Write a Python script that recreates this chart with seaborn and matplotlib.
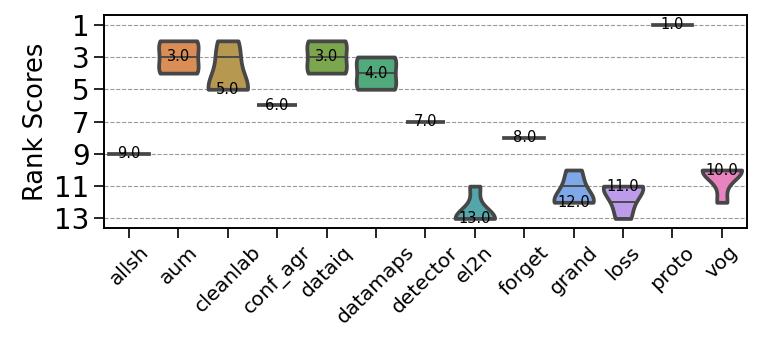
import numpy as np
import pandas as pd
import seaborn as sns
import matplotlib
matplotlib.use("Agg")
import matplotlib.pyplot as plt

# rank of each method across the 5 runs
methods = ["allsh", "aum", "cleanlab", "conf_agr", "dataiq", "datamaps",
           "detector", "el2n", "forget", "grand", "loss", "proto", "vog"]
allsh = [9, 9, 9, 9, 9]
aum = [2, 2, 3, 4, 4]
cleanlab = [2, 3, 5, 5, 5]
conf_agr = [6, 6, 6, 6, 6]
dataiq = [2, 2, 3, 4, 4]
datamaps = [3, 3, 4, 5, 5]
detector = [7, 7, 7, 7, 7]
el2n = [11, 13, 13, 13, 13]
forget = [8, 8, 8, 8, 8]
grand = [10, 11, 12, 12, 12]
loss = [11, 11, 11, 12, 13]
proto = [1, 1, 1, 1, 1]
vog = [10, 10, 10, 10, 12]

ranks = [allsh, aum, cleanlab, conf_agr, dataiq, datamaps, detector,
         el2n, forget, grand, loss, proto, vog]

df = pd.DataFrame(
    [(m, r) for m, vals in zip(methods, ranks) for r in vals],
    columns=["method", "rank"],
)

# husl colours, desaturated and slightly lightened
base = np.array(sns.color_palette("husl", len(methods), desat=0.78))
palette = [tuple(c) for c in 0.92 * base + 0.08]

plt.rcParams["axes.linewidth"] = 1.4
plt.rcParams["xtick.major.size"] = 7
plt.rcParams["ytick.major.size"] = 7
plt.rcParams["xtick.major.width"] = 1.2
plt.rcParams["ytick.major.width"] = 1.2

fig, ax = plt.subplots(figsize=(7.61, 3.41), dpi=100)
fig.subplots_adjust(left=0.137, right=0.981, top=0.956, bottom=0.331)

sns.violinplot(
    data=df,
    x="method",
    y="rank",
    hue="method",
    palette=palette,
    saturation=1,
    legend=False,
    cut=0,
    inner="stick",
    density_norm="width",
    linewidth=2.7,
    linecolor="#474747",
    ax=ax,
)

# median label on each violin
for i, vals in enumerate(ranks):
    med = np.median(vals)
    ax.text(i, med, f"{med:.1f}", ha="center", va="center", fontsize=10.5)

ax.invert_yaxis()
ax.set_yticks(range(1, 14, 2))
ax.tick_params(axis="y", labelsize=20)
ax.tick_params(axis="x", labelsize=14.5, labelrotation=45)
ax.set_xlabel("")
ax.set_ylabel("Rank Scores", fontsize=18.5)
ax.grid(axis="y", linestyle="--", color="gray", linewidth=0.8, alpha=0.8)
ax.set_axisbelow(True)

plt.savefig("out.png", dpi=100)
